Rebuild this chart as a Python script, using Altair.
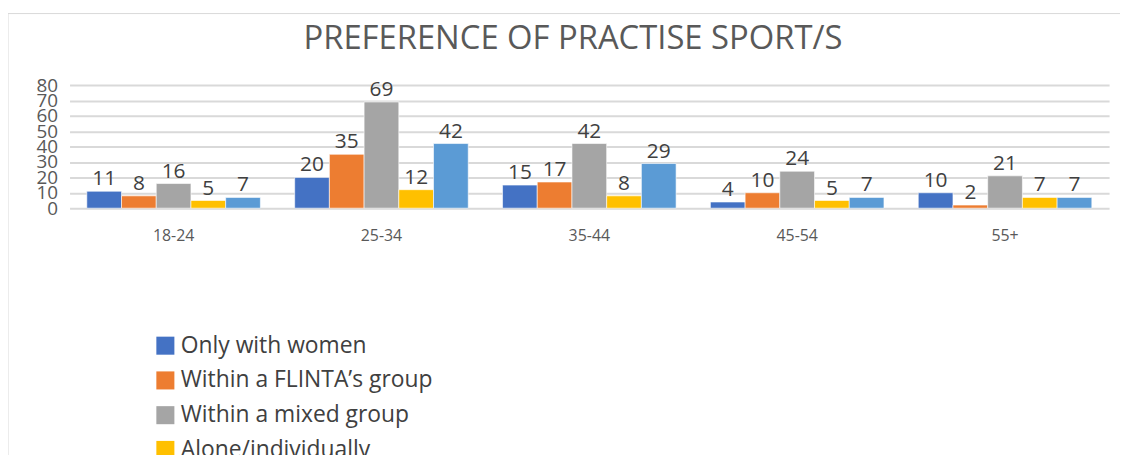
import altair as alt
import pandas as pd

ages = ["18-24", "25-34", "35-44", "45-54", "55+"]
series = ["Only with women", "Within a FLINTA\u2019s group", "Within a mixed group",
          "Alone/individually", "No preference"]
only_women = [11, 20, 15, 4, 10]
flinta = [8, 35, 17, 10, 2]
mixed = [16, 69, 42, 24, 21]
alone = [5, 12, 8, 5, 7]
no_pref = [7, 42, 29, 7, 7]
colors = ["#4472C4", "#ED7D31", "#A5A5A5", "#FFC000", "#5B9BD5"]
y_ticks = [0, 10, 20, 30, 40, 50, 60, 70, 80]
title_text = ["PREFERENCE OF PRACTISE SPORT/S"]

rows = []
for s, vals in zip(series, [only_women, flinta, mixed, alone, no_pref]):
    for a, v in zip(ages, vals):
        rows.append({"age": a, "series": s, "value": v})
df = pd.DataFrame(rows)

FONT = "Open Sans"
W, H = 1047, 124

x_enc = alt.X("age:N", sort=ages, title=None,
              scale=alt.Scale(paddingInner=0.165, paddingOuter=0.083),
              axis=alt.Axis(labelFontSize=16, labelColor="#595959", labelFont=FONT,
                            labelPadding=20, ticks=False, domain=False, labelAngle=0))
xo_enc = alt.XOffset("series:N", sort=series, scale=alt.Scale(paddingInner=0, paddingOuter=0))
y_enc = alt.Y("value:Q", title=None,
              scale=alt.Scale(domain=[0, 80], nice=False),
              axis=alt.Axis(values=y_ticks, labelFontSize=19, labelColor="#595959",
                            labelFont=FONT, labelOverlap=False, labelPadding=12,
                            ticks=False, domain=False, gridColor="#D9D9D9", gridWidth=2,
                            labelBaseline="middle", labelFlush=False))

bars = alt.Chart(df).mark_bar(stroke="white", strokeWidth=0.6).encode(
    x=x_enc,
    xOffset=xo_enc,
    y=y_enc,
    color=alt.Color("series:N", sort=series, title=None,
                    scale=alt.Scale(domain=series, range=colors),
                    legend=alt.Legend(orient="none", legendX=85, legendY=251,
                                      direction="vertical", symbolType="square",
                                      symbolSize=330, symbolStrokeWidth=0,
                                      labelFontSize=23, labelFont=FONT,
                                      labelColor="#404040", rowPadding=11,
                                      labelOffset=4, labelLimit=500)),
)

labels = alt.Chart(df).mark_text(baseline="bottom", dy=-2, fontSize=21, font=FONT,
                                 color="#404040").encode(
    x=x_enc,
    xOffset=xo_enc,
    y=y_enc,
    text="value:Q",
)

frame_df = pd.DataFrame({"k": [0]})
frame = alt.Chart(frame_df).mark_rect(fill=None, stroke="#D9D9D9", strokeWidth=1).encode(
    x=alt.value(-62), x2=alt.value(W + 40), y=alt.value(-72), y2=alt.value(H + 300),
)

title = alt.Chart(pd.DataFrame({"t": title_text})).mark_text(
    fontSize=33, font=FONT, color="#595959", align="center", baseline="middle"
).encode(x=alt.value(507), y=alt.value(-46), text="t:N")

chart = alt.layer(frame, bars, labels, title).properties(
    width=W, height=H,
    background="white",
    autosize=alt.AutoSizeParams(type="none"),
    padding={"left": 62, "top": 76, "right": 11, "bottom": 247},
).configure_view(stroke=None)

chart.save("out.html", embed_options={"renderer": "svg", "actions": False})
